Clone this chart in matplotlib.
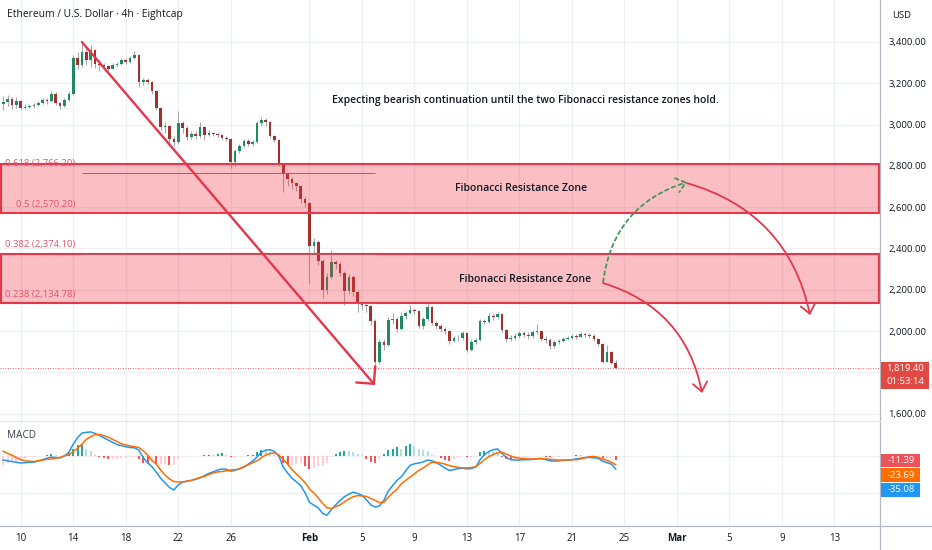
import numpy as np
import pandas as pd
import matplotlib
matplotlib.use('Agg')
import matplotlib.pyplot as plt
import matplotlib.dates as mdates
from matplotlib.patches import Rectangle, FancyArrowPatch
from matplotlib.lines import Line2D

plt.rcParams['font.family'] = ['Open Sans', 'DejaVu Sans']

# ---------------------------------------------------------------
# ETH/USD, read off the screenshot as 8h candles (open = prev close)
# ---------------------------------------------------------------
bar_start = '2026-01-08 16:00'
first_open = 3100

closes = [
    3110, 3125, 3095, 3115, 3080, 3085, 3090, 3095, 3105, 3120,
    3115, 3150, 3105, 3090, 3120, 3150, 3320, 3290, 3350, 3310,
    3360, 3295, 3290, 3285, 3270, 3290, 3295, 3310, 3305, 3320,
    3335, 3205, 3215, 3205, 3160, 3080, 2990, 2995, 2930, 2915,
    3005, 2985, 2940, 2955, 2945, 2990, 2950, 2960, 2955, 2950,
    2935, 2930, 2820, 2870, 2895, 2920, 2905, 2915, 3005, 3020,
    3010, 2945, 2925, 2815, 2760, 2735, 2715, 2700, 2640, 2620,
    2410, 2430, 2340, 2200, 2260, 2335, 2325, 2280, 2195, 2260,
    2190, 2130, 2125, 2120, 2050, 1850, 1945, 1930, 2055, 2060,
    2010, 2075, 2085, 2100, 2095, 2025, 2060, 2115, 2040, 2025,
    2010, 2000, 1950, 1965, 1965, 1990, 1910, 1945, 1955, 2050,
    2045, 2075, 2070, 2080, 2005, 1960, 1965, 1975, 1990, 1980,
    1975, 1995, 2000, 1960, 1955, 1925, 1945, 1950, 1960, 1965,
    1975, 1970, 1985, 1980, 1975, 1960, 1935, 1850, 1900, 1845,
    1819.4,
]
highs = [
    3140, 3145, 3135, 3135, 3120, 3100, 3100, 3105, 3112, 3130,
    3130, 3160, 3155, 3110, 3130, 3160, 3335, 3350, 3395, 3380,
    3385, 3365, 3310, 3300, 3290, 3300, 3305, 3320, 3320, 3330,
    3358, 3340, 3225, 3225, 3210, 3165, 3085, 3010, 3000, 2945,
    3065, 3015, 2995, 2970, 2970, 3010, 2995, 2975, 2965, 2960,
    2955, 2945, 2935, 2880, 2905, 2930, 2930, 2925, 3015, 3036,
    3030, 3015, 2950, 2930, 2815, 2770, 2745, 2720, 2705, 2650,
    2625, 2450, 2440, 2350, 2280, 2392, 2345, 2335, 2290, 2275,
    2270, 2200, 2140, 2135, 2125, 2060, 1960, 1960, 2070, 2085,
    2070, 2090, 2095, 2126, 2110, 2100, 2070, 2136, 2120, 2050,
    2035, 2020, 2005, 1975, 1980, 2000, 1995, 1960, 1965, 2060,
    2060, 2085, 2088, 2090, 2085, 2010, 1980, 1990, 2000, 2000,
    1995, 2005, 2032, 2005, 1975, 1965, 1955, 1960, 1970, 1975,
    1985, 1985, 1995, 1992, 1990, 1985, 1965, 1940, 1930, 1905,
    1860,
]
lows = [
    3070, 3090, 3075, 3080, 3070, 3075, 3080, 3082, 3090, 3100,
    3100, 3110, 3095, 3075, 3085, 3115, 3145, 3270, 3280, 3290,
    3280, 3275, 3260, 3270, 3260, 3270, 3280, 3290, 3295, 3300,
    3315, 3180, 3190, 3195, 3150, 3070, 2975, 2960, 2900, 2895,
    2905, 2960, 2925, 2930, 2930, 2935, 2925, 2945, 2945, 2940,
    2925, 2920, 2790, 2800, 2860, 2890, 2895, 2895, 2910, 2995,
    2995, 2935, 2915, 2800, 2675, 2700, 2690, 2680, 2620, 2600,
    2232, 2380, 2320, 2160, 2180, 2250, 2300, 2265, 2125, 2180,
    2170, 2090, 2100, 2090, 2030, 1815, 1840, 1910, 1925, 2035,
    1995, 2005, 2060, 2080, 2080, 2015, 2010, 2050, 2030, 2010,
    1995, 1985, 1935, 1945, 1950, 1955, 1900, 1905, 1935, 1950,
    2035, 2040, 2055, 2060, 1995, 1945, 1950, 1955, 1965, 1970,
    1960, 1965, 1985, 1950, 1940, 1915, 1920, 1935, 1945, 1955,
    1960, 1960, 1970, 1972, 1965, 1950, 1925, 1845, 1850, 1840,
    1815,
]

# MACD (12, 26, 9)
macd_line = [
    -11, -13, -15, -17, -19, -18, -17, -17, -13, -10,
    -6, -3, -4, -5, 0, 10, 32, 50, 62, 64,
    65, 61, 56, 49, 43, 37, 31, 28, 25, 23,
    22, 16, -5, -18, -29, -44, -60, -73, -85, -92,
    -78, -71, -68, -66, -63, -59, -53, -47, -43, -38,
    -35, -36, -41, -39, -34, -30, -22, -14, -3, 10,
    16, 17, 12, 0, -30, -46, -60, -70, -80, -100,
    -125, -133, -140, -155, -160, -145, -132, -120, -110, -103,
    -98, -101, -106, -118, -132, -138, -135, -120, -95, -80,
    -66, -56, -40, -25, -21, -19, -16, -11, -13, -18,
    -25, -33, -39, -37, -34, -33, -35, -34, -30, -10,
    4, 12, 17, 19, 7, -4, -10, -11, -11, -10,
    -10, -9, -7, -7, -10, -13, -14, -13, -12, -11,
    -10, -8, -6, -4, -4, -5, -6, -14, -18, -22,
    -35.08,
]
signal_line = [
    13, 7, 2, -4, -10, -13, -14, -15, -13, -11,
    -9, -8, -6, -4, 1, 3, 12, 21, 32, 45,
    52, 58, 58, 55, 51, 45, 39, 33, 30, 27,
    25, 23, 14, 3, -12, -22, -38, -52, -62, -69,
    -70, -70, -68, -66, -62, -58, -55, -50, -46, -43,
    -42, -40, -38, -37, -35, -29, -24, -18, -13, -5,
    3, 7, 8, 3, -10, -22, -37, -48, -60, -72,
    -89, -100, -113, -128, -140, -142, -137, -132, -124, -116,
    -110, -107, -108, -109, -115, -120, -126, -125, -112, -100,
    -90, -75, -66, -57, -48, -39, -32, -24, -17, -17,
    -19, -22, -26, -29, -31, -32, -32, -31, -29, -20,
    -10, -2, 4, 9, 10, 5, 0, -4, -6, -7,
    -8, -8, -8, -7, -8, -9, -10, -11, -11, -11,
    -10, -10, -8, -5, -2, -1, -4, -8, -12, -17,
    -23.69,
]

price_ticks = [1600, 1800, 2000, 2200, 2400, 2600, 2800, 3000, 3200, 3400]
hidden_price_ticks = [1800]          # covered by the last-price tag
macd_grid = [0, -100]
date_ticks = ['2026-01-10', '2026-01-14', '2026-01-18', '2026-01-22', '2026-01-26',
              '2026-02-01', '2026-02-05', '2026-02-09', '2026-02-13', '2026-02-17',
              '2026-02-21', '2026-02-25', '2026-03-01', '2026-03-05', '2026-03-09',
              '2026-03-13']
date_labels = ['10', '14', '18', '22', '26', 'Feb', '5', '9', '13', '17', '21', '25',
               'Mar', '5', '9', '13']

fib_ratios = [0.618, 0.5, 0.382, 0.238]
fib_prices = [2766.20, 2570.20, 2374.10, 2134.78]
zone_bounds = [(2570.20, 2808.0), (2134.78, 2374.10)]
zone_label = 'Fibonacci Resistance Zone'
last_price = 1819.40
countdown = '01:53:14'
macd_values = [-11.39, -23.69, -35.08]

# ---------------------------------------------------------------
W, H = 932, 550
def fx(px):
    return px / W
def fy(py):
    return 1 - py / H

TXT = '#131722'
GRID = '#eef0f4'
RED = '#e5364c'

fig = plt.figure(figsize=(9.32, 5.5), dpi=100)
fig.patch.set_facecolor('white')
ax = fig.add_axes([0, fy(421), fx(880), 421 / H])
axm = fig.add_axes([0, fy(526), fx(880), 105 / H], sharex=ax)

times = pd.date_range(bar_start, periods=len(closes), freq='8h')
x = mdates.date2num(times.to_pydatetime())
o = np.array([first_open] + closes[:-1], dtype=float)
c = np.array(closes, dtype=float)
hi = np.array(highs, dtype=float)
lo = np.array(lows, dtype=float)

up = c >= o
body_col = np.where(up, '#1f8a63', '#a3312b')
ax.vlines(x, lo, hi, color='#a5a9b2', lw=0.8, zorder=2)
ax.bar(x, np.maximum(np.abs(c - o), 3), bottom=np.minimum(o, c), width=0.2,
       color=body_col, linewidth=0, zorder=3)

xl = (mdates.date2num(pd.Timestamp('2026-01-08 10:05')),
      mdates.date2num(pd.Timestamp('2026-03-16 11:17')))
ax.set_xlim(*xl)
ax.set_ylim(1564.2, 3602.9)

tick_x = mdates.date2num(pd.to_datetime(date_ticks).to_pydatetime())
for a in (ax, axm):
    for tx in tick_x:
        a.axvline(tx, color=GRID, lw=0.9, zorder=0)
    for s in a.spines.values():
        s.set_visible(False)
    a.set_facecolor('white')

for p in price_ticks:
    ax.axhline(p, color=GRID, lw=0.9, zorder=0)

# price scale on the right
ax.yaxis.tick_right()
ax.set_yticks(price_ticks)
ax.set_yticklabels(['' if p in hidden_price_ticks else f'{p:,.2f}' for p in price_ticks])
ax.tick_params(axis='y', length=0, pad=6, labelsize=6.8, labelcolor=TXT)
ax.tick_params(axis='x', bottom=False, labelbottom=False)

# Fibonacci zones
for zlo, zhi in zone_bounds:
    ax.add_patch(Rectangle((0, zlo), 1, zhi - zlo, transform=ax.get_yaxis_transform(),
                           facecolor='#f23645', alpha=0.32, edgecolor='none', zorder=4))
    ax.add_patch(Rectangle((0.001, zlo), 0.998, zhi - zlo, transform=ax.get_yaxis_transform(),
                           fill=False, edgecolor=RED, lw=1.5, zorder=5))

def dnum(s):
    return mdates.date2num(pd.Timestamp(s))

fib_x0 = dnum('2026-01-14 16:00')
fib_x1 = dnum('2026-02-06 00:00')
fib_lab_x = dnum('2026-01-14 03:30')
ax.hlines(fib_prices, fib_x0, fib_x1, color='#c8505f', lw=0.7, zorder=5)
for r, p in zip(fib_ratios, fib_prices):
    ax.annotate(f'{r:g} ({p:,.2f})', xy=(fib_lab_x, p), xytext=(0, 6.5),
                textcoords='offset points', ha='right', va='center',
                fontsize=6.8, color='#e0566a', zorder=6)

# last price line
ax.axhline(last_price, color='#f23645', lw=0.6, ls=(0, (1, 2)), zorder=1)

# drawings
ax.annotate('', xy=(dnum('2026-02-05 23:45'), 1738), xytext=(dnum('2026-01-14 16:00'), 3399),
            arrowprops=dict(arrowstyle='->,head_length=0.45,head_width=0.45', color=RED,
                            lw=1.7, shrinkA=0, shrinkB=0, mutation_scale=20), zorder=7)

curves = [
    (('2026-02-23 09:00', 2237), ('2026-03-01 18:30', 2721), -0.32, '#3f9a55', (0, (2, 2))),
    (('2026-03-01 18:30', 2716), ('2026-03-11 03:20', 2077), -0.3, RED, '-'),
    (('2026-02-23 09:00', 2232), ('2026-03-02 21:50', 1700), -0.3, RED, '-'),
]
for (sa, pa), (sb, pb), rad, col, ls in curves:
    ax.add_patch(FancyArrowPatch((dnum(sa), pa), (dnum(sb), pb),
                                 connectionstyle=f'arc3,rad={rad}',
                                 arrowstyle='->,head_length=0.32,head_width=0.26',
                                 mutation_scale=20, color=col, lw=1.3, linestyle=ls,
                                 shrinkA=0, shrinkB=0, zorder=7))

ax.text(dnum('2026-02-17 10:00'), 3114,
        'Expecting bearish continuation until the two Fibonacci resistance zones hold.',
        ha='center', va='center', fontsize=7.5, fontweight='semibold', color=TXT, zorder=8)
ax.text(dnum('2026-02-17 03:00'), 2692, zone_label, ha='center', va='center',
        fontsize=7.6, fontweight='semibold', color=TXT, zorder=8)
ax.text(dnum('2026-02-17 10:00'), 2247, zone_label, ha='center', va='center',
        fontsize=7.6, fontweight='semibold', color=TXT, zorder=8)

# MACD pane
hist = np.array(macd_line) - np.array(signal_line)
hist_col = []
for i, h in enumerate(hist):
    prev = hist[i - 1] if i > 0 else h
    if h >= 0:
        hist_col.append('#26a69a' if h > prev else '#b2dfdb')
    else:
        hist_col.append('#ff5252' if h < prev else '#ffcdd2')
for v in macd_grid:
    axm.axhline(v, color=GRID, lw=0.9, zorder=0)
axm.bar(x, hist, width=0.15, color=hist_col, linewidth=0, zorder=2)
axm.plot(x, macd_line, color='#2196f3', lw=1.1, zorder=3)
axm.plot(x, signal_line, color='#ff6d00', lw=1.1, zorder=3)
axm.set_ylim(-189.2, 94.6)
axm.set_yticks([])
axm.set_xticks(tick_x)
axm.set_xticklabels(date_labels)
axm.tick_params(axis='x', length=0, pad=5, labelsize=7, labelcolor=TXT)
for lab in axm.get_xticklabels():
    if lab.get_text() in ('Feb', 'Mar'):
        lab.set_fontweight('bold')

# frame lines
fig.add_artist(Line2D([fx(880), fx(880)], [0, 1], color='#b4b8c2', lw=0.9))
fig.add_artist(Line2D([0, 1], [fy(526), fy(526)], color='#b4b8c2', lw=0.9))
fig.add_artist(Line2D([0, fx(880)], [fy(421), fy(421)], color='#e3e6ec', lw=0.9))

# header texts
fig.text(fx(7), fy(15), 'Ethereum / U.S. Dollar · 4h · Eightcap', fontsize=7.4,
         color=TXT, va='center', ha='left')
fig.text(fx(892), fy(15), 'USD', fontsize=6.8, color=TXT, va='center', ha='left')
fig.text(fx(7), fy(436), 'MACD', fontsize=7.2, color='#3a3e48', va='center', ha='left')

# right-scale tags
def box(px0, py0, px1, py1, col):
    fig.add_artist(Rectangle((fx(px0), fy(py1)), (px1 - px0) / W, (py1 - py0) / H,
                             transform=fig.transFigure, facecolor=col, edgecolor='none',
                             zorder=5))

box(881, 362, 929, 389, '#e04a43')
fig.text(fx(905), fy(369), f'{last_price:,.2f}', fontsize=6.8, color='white',
         ha='center', va='center', zorder=6)
fig.text(fx(905), fy(381.5), countdown, fontsize=6.8, color='white',
         ha='center', va='center', zorder=6)

macd_cols = ['#f0525a', '#ff6d00', '#2196f3']
macd_rows = [(454, 467), (468, 482), (483, 497)]
for v, colr, (r0, r1) in zip(macd_values, macd_cols, macd_rows):
    box(881, r0, 920, r1, colr)
    fig.text(fx(901), fy((r0 + r1) / 2), f'{v:.2f}', fontsize=6.8, color='white',
             ha='center', va='center', zorder=6)

fig.savefig('out.png', dpi=100, facecolor='white')
